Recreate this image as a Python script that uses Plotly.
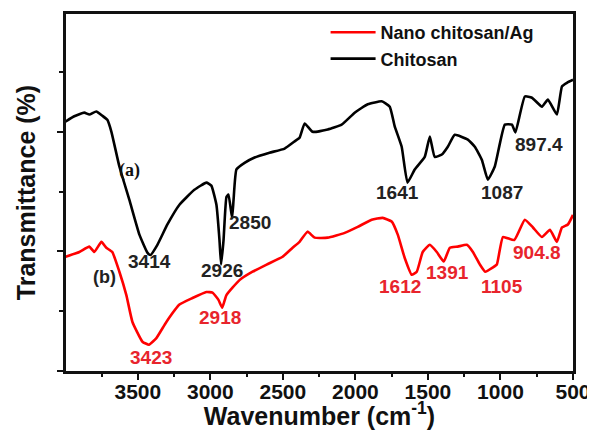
import plotly.graph_objects as go

# Chitosan (black) spectrum: wavenumber (cm-1) and transmittance (a.u.)
chitosan_wn = [4000, 3938, 3869, 3834, 3786, 3745, 3710, 3682, 3627, 3558, 3489, 3434, 3413,
               3365, 3296, 3213, 3110, 3027, 2993, 2958, 2937, 2926, 2909, 2889, 2875, 2850,
               2840, 2820, 2764, 2695, 2592, 2488, 2419, 2385, 2350, 2295, 2191, 2095, 2005,
               1915, 1819, 1763, 1729, 1681, 1641, 1591, 1522, 1487, 1453, 1404, 1363, 1315,
               1225, 1177, 1128, 1087, 1039, 970, 921, 897, 832, 783, 714, 673, 611, 576, 542, 500]
chitosan_t = [4.17, 4.26, 4.32, 4.29, 4.34, 4.27, 4.20, 4.00, 3.42, 2.86, 2.28, 1.98, 1.94,
              2.11, 2.45, 2.78, 3.03, 3.15, 3.10, 2.78, 2.19, 1.78, 2.19, 2.91, 2.95, 2.56,
              2.86, 3.37, 3.48, 3.57, 3.65, 3.72, 3.84, 3.90, 4.14, 4.00, 4.04, 4.12, 4.32,
              4.46, 4.51, 4.42, 4.09, 3.75, 3.15, 3.37, 3.58, 3.92, 3.58, 3.62, 3.75, 3.95,
              3.87, 3.75, 3.53, 3.20, 3.42, 4.12, 4.12, 3.99, 4.59, 4.57, 4.42, 4.54, 4.29, 4.76, 4.82, 4.87]

# Nano chitosan/Ag (red) spectrum
nano_wn = [4000, 3903, 3834, 3800, 3751, 3717, 3676, 3627, 3579, 3537, 3468, 3423, 3372, 3303,
           3213, 3123, 3027, 2985, 2944, 2918, 2889, 2799, 2709, 2612, 2502, 2433, 2385, 2330,
           2281, 2191, 2074, 1984, 1888, 1812, 1750, 1708, 1660, 1612, 1577, 1536, 1487, 1439,
           1391, 1349, 1294, 1232, 1190, 1142, 1105, 1053, 1025, 983, 905, 832, 776, 714, 659,
           611, 576, 535, 500]
nano_t = [1.91, 1.99, 2.08, 1.99, 2.16, 2.06, 1.99, 1.66, 1.27, 0.82, 0.49, 0.44, 0.55, 0.82,
          1.11, 1.22, 1.32, 1.31, 1.19, 1.06, 1.27, 1.52, 1.66, 1.78, 1.91, 2.06, 2.16, 2.33,
          2.23, 2.23, 2.31, 2.41, 2.53, 2.56, 2.50, 2.28, 1.89, 1.61, 1.66, 1.99, 2.11, 1.99,
          1.83, 2.06, 2.08, 2.11, 1.99, 1.78, 1.66, 1.73, 1.78, 2.24, 2.19, 2.53, 2.40, 2.24, 2.36,
          2.16, 2.40, 2.45, 2.61]

series_names = ["Nano chitosan/Ag", "Chitosan"]
series_colors = ["#ff0000", "#000000"]

chitosan_peaks = ["3414", "2926", "2850", "1641", "1087", "897.4"]
nano_peaks = ["3423", "2918", "1612", "1391", "1105", "904.8"]

x_ticks = [3500, 3000, 2500, 2000, 1500, 1000, 500]

FONT = "Liberation Sans, Arial, sans-serif"

fig = go.Figure()
fig.add_trace(go.Scatter(x=nano_wn, y=nano_t, mode="lines", name=series_names[0],
                         line=dict(color=series_colors[0], width=2.6, shape="spline", smoothing=0.4)))
fig.add_trace(go.Scatter(x=chitosan_wn, y=chitosan_t, mode="lines", name=series_names[1],
                         line=dict(color=series_colors[1], width=2.6, shape="spline", smoothing=0.4)))

# peak labels (data-anchored)
black_pos = [(3420, 1.83), (2923, 1.68), (2730, 2.48), (1708, 2.98), (990, 2.98), (735, 3.79)]
red_pos = [(3406, 0.23), (2930, 0.89), (1694, 1.41), (1363, 1.64), (990, 1.41), (749, 1.99)]
for txt, (xx, yy) in zip(chitosan_peaks, black_pos):
    fig.add_annotation(x=xx, y=yy, text=txt, showarrow=False,
                       font=dict(family=FONT, size=19, color="#222222", weight="bold"))
for txt, (xx, yy) in zip(nano_peaks, red_pos):
    fig.add_annotation(x=xx, y=yy, text=txt, showarrow=False,
                       font=dict(family=FONT, size=19, color="#e8242c", weight="bold"))
fig.add_annotation(x=3558, y=3.35, text="(a)", showarrow=False,
                   font=dict(family="Liberation Serif, Times New Roman, serif", size=18,
                             color="#111111", weight="bold"))
fig.add_annotation(x=3731, y=1.57, text="(b)", showarrow=False,
                   font=dict(family=FONT, size=18, color="#222222", weight="bold"))

# the page places the figure 8 px in from the top-left corner
fig.update_layout(
    width=587, height=422,
    margin=dict(l=58, r=22, t=6, b=59, autoexpand=False),
    paper_bgcolor="white", plot_bgcolor="white",
    font=dict(family=FONT, color="#111111"),
    showlegend=True,
    legend=dict(x=0.512, y=1.0, xanchor="left", yanchor="top",
                bgcolor="rgba(0,0,0,0)", borderwidth=0,
                font=dict(family=FONT, size=18, color="#111111", weight="bold"),
                itemwidth=45, tracegroupgap=0),
)

fig.update_xaxes(
    range=[3995, 500], autorange=False, automargin=False,
    tickmode="array", tickvals=x_ticks, ticktext=[str(v) for v in x_ticks],
    ticks="outside", ticklen=6, tickwidth=2, tickcolor="#111111",
    ticklabelstandoff=-6,
    minor=dict(dtick=250, tick0=500, ticks="outside", ticklen=3, tickwidth=2, tickcolor="#111111"),
    showline=True, linecolor="#111111", linewidth=2.5, mirror=True,
    showgrid=False, zeroline=False,
    tickfont=dict(family=FONT, size=21, color="#111111", weight="bold"),
    title=dict(text="Wavenumber (cm<sup>-1</sup>)", standoff=3,
               font=dict(family=FONT, size=25, color="#111111", weight="bold")),
)
fig.update_yaxes(
    range=[0, 5.97], autorange=False, automargin=False,
    tickmode="linear", tick0=0, dtick=2, showticklabels=False,
    ticks="outside", ticklen=6, tickwidth=2, tickcolor="#111111",
    minor=dict(dtick=1, tick0=0, ticks="outside", ticklen=4, tickwidth=2, tickcolor="#111111"),
    showline=True, linecolor="#111111", linewidth=2.5, mirror=True,
    showgrid=False, zeroline=False,
    title=dict(text="Transmittance (%)", standoff=15,
               font=dict(family=FONT, size=25, color="#111111", weight="bold")),
)

fig.write_html("out.html")
